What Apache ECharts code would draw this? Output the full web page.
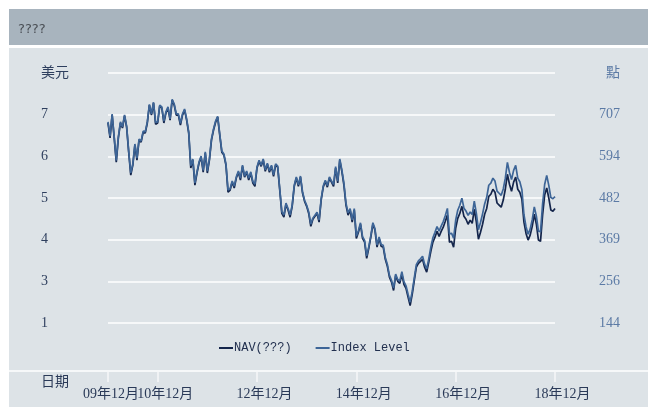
<!DOCTYPE html>
<html>
<head>
<meta charset="utf-8">
<script src="https://cdn.jsdelivr.net/npm/echarts@6/dist/echarts.min.js"></script>
<style>
  html, body { margin: 0; padding: 0; background: #fff; }
  #chart { width: 648px; height: 407px; }
</style>
</head>
<body>
<div id="chart"></div>
<script>
// 半月一个点, 09年12月 ~ 18年12月
var nav = [
  6.80, 6.44, 6.99, 6.44, 5.86, 6.44, 6.80, 6.68, 6.97, 6.70,
  6.10, 5.55, 5.79, 6.27, 5.91, 6.39, 6.34, 6.58, 6.56, 6.80,
  7.23, 6.99, 7.28, 6.77, 6.80, 7.21, 7.16, 6.80, 7.04, 7.16,
  6.87, 7.35, 7.23, 6.99, 6.99, 6.75, 6.99, 7.11, 6.87, 6.56,
  5.72, 5.91, 5.31, 5.60, 5.84, 5.98, 5.62, 6.08, 5.60, 5.91,
  6.39, 6.63, 6.82, 6.94, 6.51, 6.10, 6.03, 5.79, 5.14, 5.19,
  5.38, 5.24, 5.48, 5.62, 5.43, 5.76, 5.50, 5.62, 5.43, 5.60,
  5.36, 5.28, 5.72, 5.88, 5.76, 5.91, 5.64, 5.81, 5.62, 5.76,
  5.52, 5.79, 5.74, 5.19, 4.63, 4.54, 4.85, 4.71, 4.54, 4.80,
  5.28, 5.48, 5.28, 5.50, 5.12, 4.92, 4.80, 4.63, 4.32, 4.49,
  4.56, 4.63, 4.42, 4.95, 5.26, 5.40, 5.26, 5.48, 5.38, 5.28,
  5.72, 5.36, 5.91, 5.64, 5.31, 4.83, 4.59, 4.71, 4.42, 4.71,
  4.03, 4.18, 4.37, 4.03, 3.94, 3.55, 3.79, 4.06, 4.37, 4.23,
  3.82, 4.03, 3.84, 3.82, 3.53, 3.36, 3.10, 2.98, 2.78, 3.14,
  3.00, 2.95, 3.17, 2.93, 2.83, 2.62, 2.42, 2.69, 3.02, 3.34,
  3.43, 3.48, 3.53, 3.34, 3.22, 3.46, 3.72, 3.94, 4.06, 4.20,
  4.08, 4.20, 4.30, 4.44, 4.59, 3.94, 3.96, 3.82, 4.27, 4.51,
  4.63, 4.80, 4.56, 4.49, 4.37, 4.47, 4.39, 4.73, 4.42, 4.01,
  4.18, 4.37, 4.61, 4.75, 5.04, 5.09, 5.21, 5.14, 4.88, 4.83,
  4.78, 4.95, 5.21, 5.57, 5.33, 5.16, 5.38, 5.50, 5.21, 5.14,
  4.97, 4.42, 4.15, 3.99, 4.11, 4.32, 4.61, 4.37, 3.99, 3.96,
  4.59, 5.07, 5.24, 5.00, 4.71, 4.68, 4.75
];

var indexLevel = [
  687.5, 648.9, 708.9, 646.9, 583.6, 646.9, 687.5, 674.0, 706.6, 676.2,
  608.7, 549.7, 573.8, 627.8, 589.3, 641.3, 635.7, 662.7, 660.5, 687.5,
  734.9, 708.9, 740.5, 686.1, 687.5, 732.6, 728.0, 689.5, 714.5, 728.0,
  695.4, 748.4, 735.9, 708.9, 708.9, 683.9, 708.9, 722.4, 695.4, 660.5,
  568.9, 587.3, 522.7, 552.4, 579.4, 595.1, 556.6, 606.4, 554.4, 587.3,
  641.3, 668.3, 689.7, 702.2, 654.8, 608.7, 600.8, 573.8, 503.6, 506.2,
  527.6, 513.8, 538.8, 554.6, 535.2, 570.4, 541.1, 554.6, 535.2, 552.4,
  526.3, 519.3, 565.9, 583.9, 570.4, 587.3, 557.9, 576.0, 555.6, 570.4,
  544.4, 573.8, 568.1, 506.2, 445.1, 436.0, 467.9, 453.1, 436.0, 462.3,
  516.3, 538.8, 517.3, 541.1, 498.3, 475.8, 462.3, 444.1, 411.2, 427.4,
  435.3, 443.1, 422.5, 479.2, 514.1, 529.8, 515.1, 538.8, 527.6, 518.3,
  566.9, 527.3, 587.3, 557.9, 521.7, 467.7, 441.6, 453.1, 422.5, 453.1,
  378.6, 393.5, 414.9, 377.6, 367.4, 325.5, 349.6, 380.0, 414.9, 399.1,
  354.9, 376.6, 356.2, 353.9, 321.3, 302.1, 272.9, 259.3, 238.8, 276.4,
  261.6, 258.0, 282.7, 255.7, 244.5, 221.8, 200.3, 228.7, 265.9, 301.9,
  312.0, 317.7, 324.3, 302.9, 290.4, 317.4, 348.7, 374.4, 389.0, 404.7,
  392.2, 405.7, 418.0, 434.7, 453.6, 384.4, 386.7, 372.9, 421.6, 448.6,
  462.1, 481.3, 454.3, 446.4, 434.9, 444.1, 437.1, 473.4, 440.5, 396.3,
  415.5, 438.9, 465.9, 483.7, 516.3, 521.9, 535.4, 527.6, 500.3, 494.7,
  489.0, 506.2, 535.4, 578.0, 551.0, 531.8, 556.6, 570.1, 535.4, 525.6,
  504.4, 436.5, 404.1, 384.1, 397.6, 423.2, 457.9, 432.9, 392.1, 390.7,
  465.6, 518.3, 542.8, 515.8, 483.1, 479.8, 485.7
];

var tickDates = ['2009-12-01', '2010-12-01', '2012-12-01', '2014-12-01', '2016-12-01', '2018-12-01'];
var leftLabels = ['1', '3', '4', '5', '6', '7', '美元'];
var rightLabels = ['144', '256', '369', '482', '594', '707', '點'];
var seriesNames = ['NAV(???)', 'Index Level'];

// 日期: 每月1日和16日
var dates = [];
for (var i = 0; i < nav.length; i++) {
  var m = 11 + Math.floor(i / 2);
  var yy = 2009 + Math.floor(m / 12);
  var mm = m % 12 + 1;
  dates.push(yy + '-' + (mm < 10 ? '0' : '') + mm + (i % 2 ? '-16' : '-01'));
}

var isTick = function (index, value) {
  return tickDates.indexOf(dates[index]) >= 0;
};

var labelFont = "'Liberation Serif', 'Noto Sans CJK SC', serif";

var chart = echarts.init(document.getElementById('chart'));

var option = {
  animation: false,
  backgroundColor: '#ffffff',
  title: {
    text: '????',
    left: 13,
    top: 18,
    textStyle: { fontSize: 13, fontWeight: 'normal', color: '#4a4f55', fontFamily: 'DejaVu Sans' }
  },
  graphic: [
    { type: 'rect', z: -10, shape: { x: 9, y: 9, width: 639, height: 36 }, style: { fill: '#a8b4be' } },
    { type: 'rect', z: -10, shape: { x: 9, y: 48, width: 639, height: 359 }, style: { fill: '#dde3e7' } },
    { type: 'rect', z: -5, shape: { x: 9, y: 370, width: 639, height: 2 }, style: { fill: '#f6f8f9' } },
    {
      type: 'text', left: 41, top: 375,
      style: { text: '日期', fontSize: 14, fontFamily: labelFont, fill: '#2a3a58' }
    }
  ],
  legend: {
    left: 214,
    top: 337,
    icon: 'rect',
    itemWidth: 14,
    itemHeight: 2,
    itemGap: 24,
    data: seriesNames,
    textStyle: {
      fontFamily: "'Liberation Mono', monospace",
      fontSize: 12,
      color: '#22304f',
      padding: [0, 0, 0, -4]
    }
  },
  grid: { left: 108, right: 93, top: 73, bottom: 84 },
  xAxis: {
    type: 'category',
    data: dates,
    boundaryGap: false,
    offset: 48,
    axisLine: { show: false },
    axisTick: {
      show: true,
      length: 11,
      interval: isTick,
      lineStyle: { color: '#f6f8f9', width: 1.5 }
    },
    axisLabel: {
      margin: 16,
      interval: 0,
      hideOverlap: false,
      formatter: function (v) {
        var k = tickDates.indexOf(v);
        if (k < 0) return '';
        var txt = v.slice(2, 4) + '年' + v.slice(5, 7) + '月';
        return k === 0 ? '{a|' + txt + '}' : '{b|' + txt + '}';
      },
      rich: {
        a: { padding: [0, 0, 0, 6] },
        b: { padding: [0, 0, 0, 15] }
      },
      fontSize: 14,
      fontFamily: labelFont,
      color: '#2a3a58'
    },
    splitLine: { show: false }
  },
  yAxis: [
    {
      type: 'value',
      min: 2,
      max: 8,
      interval: 1,
      axisLine: { show: false },
      axisTick: { show: false },
      axisLabel: {
        margin: 67,
        align: 'left',
        fontSize: 14,
        fontFamily: labelFont,
        color: '#2e3f5e',
        formatter: function (v) { return leftLabels[Math.round(v - 2)]; }
      },
      splitLine: { lineStyle: { color: '#f6f8f9', width: 2 } }
    },
    {
      type: 'value',
      min: 144,
      max: 819.6,
      interval: 112.6,
      axisLine: { show: false },
      axisTick: { show: false },
      axisLabel: {
        margin: 65,
        align: 'right',
        fontSize: 14,
        fontFamily: labelFont,
        color: '#5b7aa5',
        formatter: function (v) { return rightLabels[Math.round((v - 144) / 112.6)]; }
      },
      splitLine: { show: false }
    }
  ],
  series: [
    {
      name: seriesNames[0],
      type: 'line',
      yAxisIndex: 0,
      data: nav,
      showSymbol: false,
      color: '#14254b',
      lineStyle: { width: 1.7, color: '#14254b' }
    },
    {
      name: seriesNames[1],
      type: 'line',
      yAxisIndex: 1,
      data: indexLevel,
      showSymbol: false,
      color: '#3d6597',
      lineStyle: { width: 1.7, color: '#3d6597' }
    }
  ]
};

chart.setOption(option);
</script>
</body>
</html>
